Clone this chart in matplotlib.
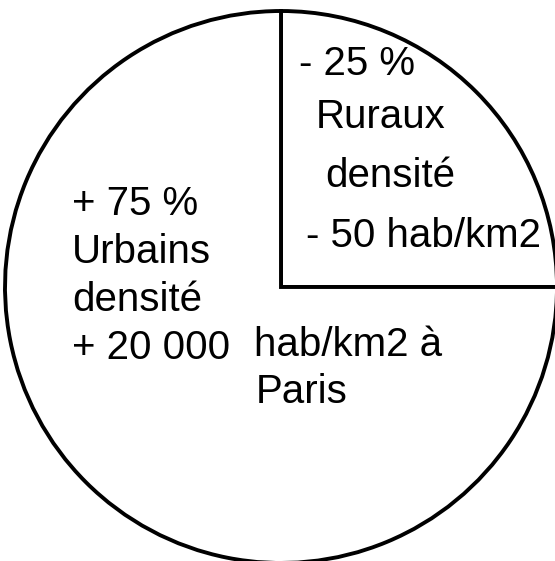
import matplotlib.pyplot as plt

# parts du camembert (ruraux, urbains)
parts = [25, 75]
# textes, ligne par ligne
ruraux_lignes = ["- 25 %", "Ruraux", "densité", "- 50 hab/km2"]
urbains_lignes = ["+ 75 %", "Urbains", "densité", "+ 20 000"]
paris_lignes = ["hab/km2 à", "Paris"]

plt.rcParams["font.family"] = ["Liberation Sans", "DejaVu Sans"]

fig = plt.figure(figsize=(5.55, 5.61), dpi=100)
ax = fig.add_axes([0, 0, 1, 1])

# axe y inversé : -90° = vers le haut de l'image
ax.pie(
    parts,
    startangle=-90,
    counterclock=True,
    center=(281, 287),
    radius=276,
    colors=["white", "white"],
    wedgeprops={"edgecolor": "black", "linewidth": 2.8},
    frame=True,
)

ax.set_xlim(0, 555)
ax.set_ylim(561, 0)
ax.set_aspect("auto")
ax.axis("off")

taille = 29
# bloc ruraux
for txt, (x, y) in zip(ruraux_lignes, [(299, 75), (316, 128), (325, 187), (306, 247)]):
    ax.text(x, y, txt, fontsize=taille, va="baseline", ha="left")
# bloc urbains
for i, txt in enumerate(urbains_lignes):
    ax.text(72, 215 + i * 48, txt, fontsize=taille, va="baseline", ha="left")
for txt, (x, y) in zip(paris_lignes, [(254, 356), (256, 403)]):
    ax.text(x, y, txt, fontsize=taille, va="baseline", ha="left")

plt.savefig("out.png", dpi=100)
plt.close()
